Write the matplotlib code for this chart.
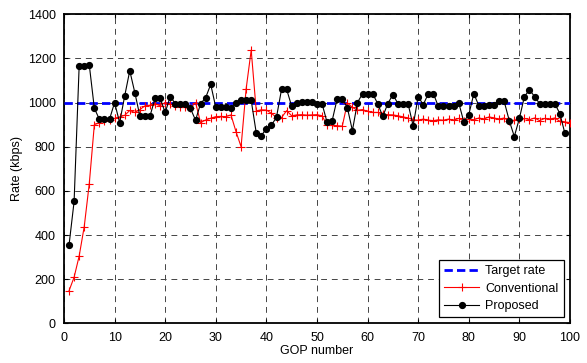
import numpy as np
import matplotlib
matplotlib.use("Agg")
import matplotlib.pyplot as plt

plt.rcParams['font.family'] = ['Liberation Sans', 'DejaVu Sans']

# GOP indices
gop_conv = list(range(1, 101))
gop_prop = list(range(1, 100))
gop_target = [0, 100]

target_rate = [1000, 1000]

conventional = [148, 209, 305, 438, 633, 900, 908, 917, 922, 928,
                935, 942, 964, 955, 968, 985, 988, 995, 985, 1000,
                993, 985, 980, 980, 975, 1000, 909, 921, 929, 936,
                937, 936, 944, 868, 800, 1062, 1237, 962, 967, 966,
                951, 932, 932, 963, 940, 944, 945, 943, 944, 945,
                940, 898, 897, 895, 893, 998, 978, 965, 968, 960,
                955, 955, 947, 945, 944, 940, 935, 930, 922, 920,
                925, 920, 918, 922, 920, 925, 920, 928, 918, 925,
                922, 930, 925, 935, 930, 925, 930, 915, 920, 925,
                928, 922, 930, 918, 928, 925, 930, 915, 912, 909]

proposed = [355, 552, 1166, 1166, 1170, 974, 924, 924, 924, 1000,
            909, 1030, 1144, 1045, 939, 939, 939, 1019, 1019, 955,
            1027, 995, 995, 995, 973, 920, 995, 1022, 1082, 978,
            978, 978, 977, 998, 1010, 1010, 1010, 862, 850, 882,
            897, 934, 1060, 1060, 983, 997, 1003, 1003, 1003, 995,
            995, 910, 918, 1018, 1018, 977, 873, 1000, 1040, 1040,
            1040, 995, 937, 995, 1036, 995, 995, 995, 895, 1027,
            990, 1040, 1040, 982, 982, 982, 982, 1000, 914, 945,
            1040, 985, 985, 988, 990, 1005, 1005, 918, 846, 928,
            1027, 1058, 1027, 995, 995, 995, 995, 950, 860]

fig = plt.figure(figsize=(5.87, 3.63), dpi=100)
ax = fig.add_axes([0.109, 0.109, 0.862, 0.852])

ax.plot(gop_target, target_rate, color='blue', linestyle='--', linewidth=2.0,
        dashes=(3, 1.5), label='Target rate', zorder=3)
ax.plot(gop_conv, conventional, color='red', linewidth=0.8, marker='+',
        markersize=6, markeredgewidth=0.8, label='Conventional', zorder=4)
ax.plot(gop_prop, proposed, color='black', linewidth=0.8, marker='o',
        markersize=4.2, label='Proposed', zorder=5)

ax.set_xlim(0, 100)
ax.set_ylim(0, 1400)
ax.set_xticks(range(0, 101, 10))
ax.set_yticks(range(0, 1401, 200))
ax.grid(True, color='#444444', linestyle=(0, (6, 5)), linewidth=0.7)
ax.tick_params(direction='in', length=3, labelsize=9, top=True, right=True, pad=6)
for sp in ax.spines.values():
    sp.set_linewidth(1.3)

ax.set_xlabel('GOP number', fontsize=9, labelpad=1)
ax.set_ylabel('Rate (kbps)', fontsize=9, labelpad=3)

leg = ax.legend(loc='lower right', fontsize=9, fancybox=False, framealpha=1,
                edgecolor='black', handlelength=2.8, borderaxespad=0.5,
                labelspacing=0.45, handletextpad=0.5)
leg.get_frame().set_linewidth(0.9)

fig.savefig('out.png', dpi=100)
